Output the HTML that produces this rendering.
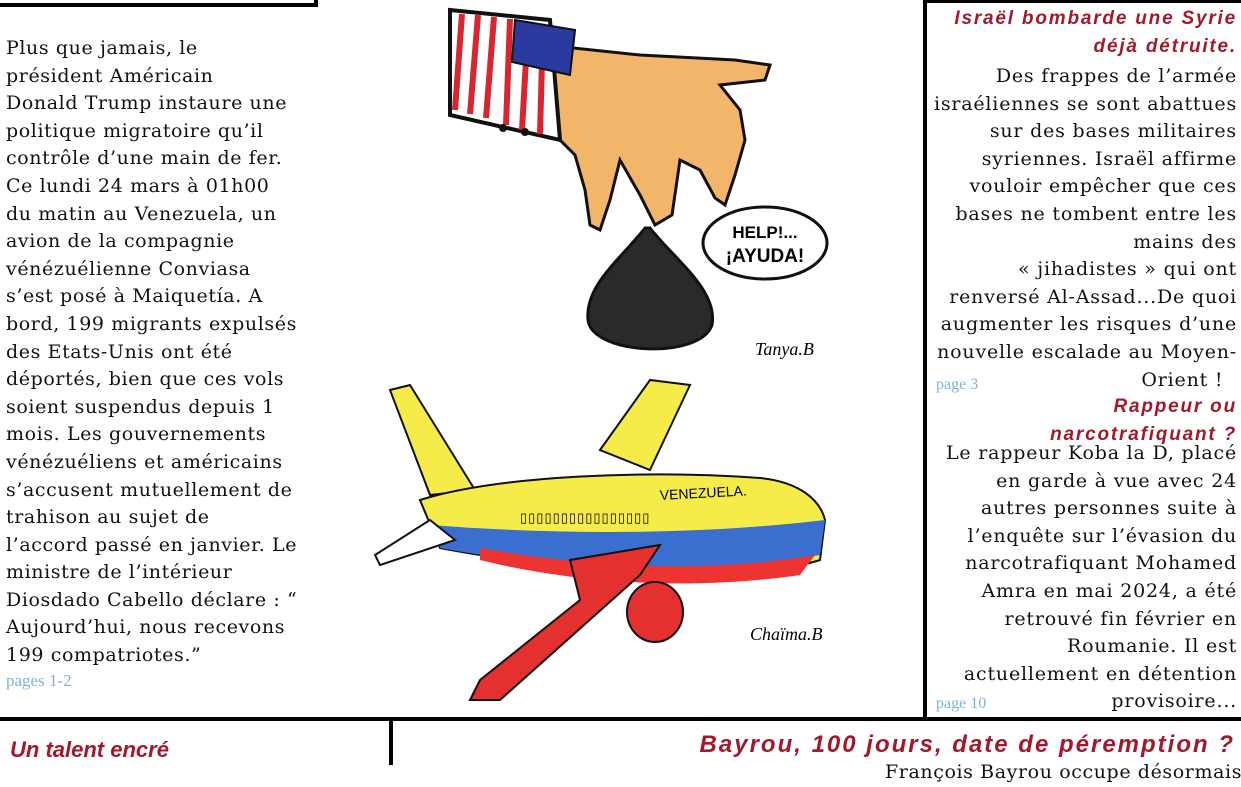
<!DOCTYPE html>
<html><head><meta charset="utf-8"><style>
body{margin:0;width:1241px;height:765px;background:#fff;position:relative;overflow:hidden;font-family:"DejaVu Serif","Liberation Serif",serif;}
.l{position:absolute;background:#000;}
.t{position:absolute;white-space:nowrap;font-size:19px;letter-spacing:0.6px;color:#111;line-height:27.6px;}
.r{text-align:right;letter-spacing:0.8px;}
.h{position:absolute;white-space:nowrap;font-family:"Liberation Sans",sans-serif;font-weight:bold;font-style:italic;color:#a3182a;font-size:19px;letter-spacing:1.8px;}
.p{position:absolute;color:#7fb3d5;font-size:16px;font-family:"Liberation Serif",serif;}
</style></head><body>
<div class="l" style="left:0;top:3px;width:318px;height:4px"></div>
<div class="l" style="left:314px;top:0;width:4px;height:7px"></div>
<div class="l" style="left:923px;top:0;width:4px;height:720px"></div>
<div class="l" style="left:923px;top:0;width:318px;height:3px"></div>
<div class="l" style="left:0;top:717px;width:1241px;height:4px"></div>
<div class="l" style="left:389px;top:721px;width:4px;height:44px"></div>

<div class="t" style="left:6px;top:35px">Plus que jamais, le<br>président Américain<br>Donald Trump instaure une<br>politique migratoire qu’il<br>contrôle d’une main de fer.<br>Ce lundi 24 mars à 01h00<br>du matin au Venezuela, un<br>avion de la compagnie<br>vénézuélienne Conviasa<br>s’est posé à Maiquetía. A<br>bord, 199 migrants expulsés<br>des Etats-Unis ont été<br>déportés, bien que ces vols<br>soient suspendus depuis 1<br>mois. Les gouvernements<br>vénézuéliens et américains<br>s’accusent mutuellement de<br>trahison au sujet de<br>l’accord passé en janvier. Le<br>ministre de l’intérieur<br>Diosdado Cabello déclare : “<br>Aujourd’hui, nous recevons<br>199 compatriotes.”</div>
<div class="p" style="left:6px;top:671px;font-size:17px">pages 1-2</div>

<div class="h" style="right:4px;top:8px">Israël bombarde une Syrie</div>
<div class="h" style="right:4px;top:36px">déjà détruite.</div>
<div class="t r" style="right:4px;top:63px">Des frappes de l’armée<br>israéliennes se sont abattues<br>sur des bases militaires<br>syriennes. Israël affirme<br>vouloir empêcher que ces<br>bases ne tombent entre les<br>mains des<br>« jihadistes » qui ont<br>renversé Al-Assad...De quoi<br>augmenter les risques d’une<br>nouvelle escalade au Moyen-<br>Orient !&nbsp;&nbsp;</div>
<div class="p" style="left:936px;top:376px">page 3</div>
<div class="h" style="right:4px;top:396px">Rappeur ou</div>
<div class="h" style="right:4px;top:424px">narcotrafiquant ?</div>
<div class="t r" style="right:4px;top:440px">Le rappeur Koba la D, placé<br>en garde à vue avec 24<br>autres personnes suite à<br>l’enquête sur l’évasion du<br>narcotrafiquant Mohamed<br>Amra en mai 2024, a été<br>retrouvé fin février en<br>Roumanie. Il est<br>actuellement en détention<br>provisoire...</div>
<div class="p" style="left:936px;top:695px">page 10</div>

<div class="h" style="left:10px;top:737px;font-size:22px;letter-spacing:0">Un talent encré</div>
<div class="h" style="right:6px;top:731px;font-size:24px;letter-spacing:2px">Bayrou, 100 jours, date de péremption ?</div>
<div class="t" style="left:885px;top:759px">François Bayrou occupe désormais</div>

<svg style="position:absolute;left:0;top:0" width="1241" height="765">
<path d="M545,45 L640,55 L735,60 L770,65 L765,80 L720,85 L740,110 L745,140 L735,175 L725,205 L715,198 L700,170 L680,160 L672,215 L655,225 L640,195 L620,160 L610,200 L600,230 L590,225 L585,190 L575,155 L560,140 Z" fill="#f2b56a" stroke="#111" stroke-width="3"/>
<path d="M450,10 L550,20 L560,140 L450,115 Z" fill="#fff" stroke="#111" stroke-width="4"/>
<g stroke="#d8262e" stroke-width="6">
<line x1="462" y1="14" x2="455" y2="110"/><line x1="478" y1="15" x2="470" y2="114"/><line x1="494" y1="17" x2="486" y2="118"/><line x1="510" y1="19" x2="506" y2="125"/><line x1="526" y1="60" x2="522" y2="130"/><line x1="542" y1="62" x2="540" y2="134"/></g>
<path d="M515,20 L575,30 L570,75 L512,62 Z" fill="#2a3aa0" stroke="#111" stroke-width="2"/>
<circle cx="503" cy="128" r="4" fill="#111"/><circle cx="525" cy="132" r="4" fill="#111"/>
<path d="M645,228 C620,260 585,285 588,320 C592,355 700,360 712,325 C718,290 675,260 650,228 Z" fill="#2a2a2a" stroke="#111" stroke-width="3"/>
<ellipse cx="765" cy="243" rx="62" ry="36" fill="#fff" stroke="#111" stroke-width="3"/>
<text x="765" y="238" text-anchor="middle" font-family="Liberation Sans" font-weight="bold" font-size="17">HELP!...</text>
<text x="765" y="262" text-anchor="middle" font-family="Liberation Sans" font-weight="bold" font-size="19">¡AYUDA!</text>
<text x="755" y="355" font-family="Liberation Serif" font-style="italic" font-size="18">Tanya.B</text>
<path d="M600,450 L650,380 L690,385 L650,470 Z" fill="#f5ec4a" stroke="#111" stroke-width="2"/>
<path d="M430,495 L390,390 L410,385 L475,490 Z" fill="#f5ec4a" stroke="#111" stroke-width="2"/>
<path d="M420,500 C500,475 650,470 760,478 C800,482 820,500 825,520 L820,560 C760,580 580,575 440,548 Z" fill="#f5ec4a" stroke="#111" stroke-width="2"/>
<path d="M430,525 C560,535 700,535 825,520 L820,555 C700,575 560,570 440,548 Z" fill="#3a6fd0"/>
<path d="M480,548 C600,570 720,572 815,555 L800,575 C700,590 580,585 480,560 Z" fill="#e33"/>
<path d="M430,520 L375,555 L380,565 L455,540 Z" fill="#fff" stroke="#111" stroke-width="2"/>
<path d="M570,560 L660,545 L640,575 L500,700 L470,700 L480,680 L580,600 Z" fill="#e4302e" stroke="#111" stroke-width="2"/>
<ellipse cx="655" cy="612" rx="28" ry="30" fill="#e4302e" stroke="#111" stroke-width="2"/>
<text x="660" y="500" font-family="Liberation Sans" font-size="14" transform="rotate(-3 660 500)">VENEZUELA.</text>
<text x="520" y="522" font-family="Liberation Mono" font-size="13" letter-spacing="1">▯▯▯▯▯▯▯▯▯▯▯▯▯▯▯▯</text>
<text x="750" y="640" font-family="Liberation Serif" font-style="italic" font-size="18">Chaïma.B</text>
</svg>
</body></html>
